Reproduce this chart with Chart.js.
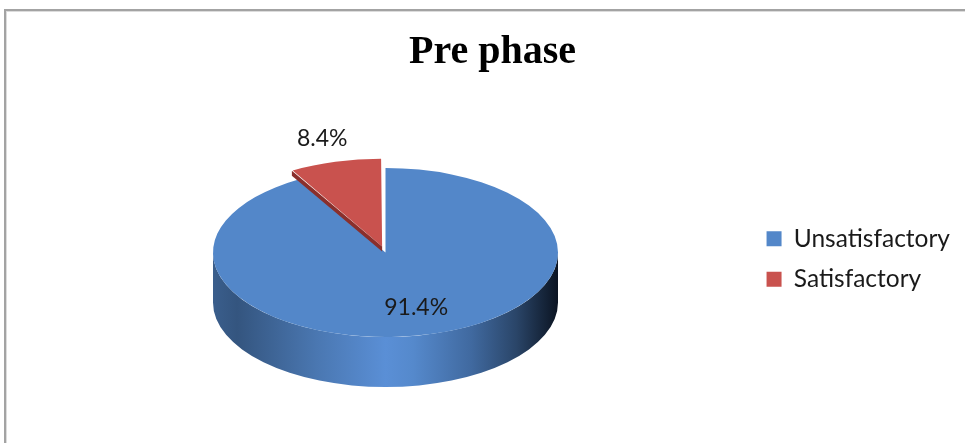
<!DOCTYPE html>
<html><head><meta charset="utf-8">
<script src="https://cdn.jsdelivr.net/npm/chart.js@4/dist/chart.umd.min.js"></script>
<style>
html,body{margin:0;padding:0;background:#fff;overflow:hidden;width:965px;height:443px;}
#frame{position:absolute;left:4px;top:9px;width:1100px;height:600px;border-top:2px solid #a3a3a3;border-left:2px solid #a3a3a3;box-shadow:inset 1px 1px 0 #dcdcdc;}
#wrap{position:absolute;left:0;top:0;width:965px;height:443px;}
</style></head><body>
<div id="frame"></div>
<div id="wrap"><canvas id="c" width="965" height="443"></canvas></div>
<script>
const categories = ['Unsatisfactory', 'Satisfactory'];
const values = [91.4, 8.4];
const valueLabels = ['91.4%', '8.4%'];
const sliceColors = ['#5387c9', '#c9524e'];

// drawing style (not data)
const VIEW = {cx: 385.5, cy: 252.5, rx: 172.5, ry: 84.5, depth: 50, cutDepth: 5};
const EXPLODE = [0, 0.3];           // offset as fraction of radius
const LABEL_RADIUS = [0.68, 1.28];  // label distance as fraction of slice radius
const WALL_STOPS = [[0,'#3a5e8c'],[0.07,'#34557f'],[0.3,'#4a77b1'],[0.5,'#5a8fd6'],[0.58,'#5589cc'],[0.75,'#40699f'],[0.88,'#2a4568'],[1,'#0b1422']];
const CUT_COLORS = ['#2c4a72', '#8a2f2c'];

function sliceGeom(chart, arc) {
  const meta = chart.getDatasetMeta(0);
  const base = meta.data[0];
  const R = base.outerRadius;
  const sx = VIEW.rx / R, sy = VIEW.ry / R;
  const off = (arc.options.offset || 0) / 4;
  const half = (arc.startAngle + arc.endAngle) / 2;
  const circ = arc.endAngle - arc.startAngle;
  const fix = 1 - Math.sin(Math.min(Math.PI, circ));
  const r = arc.outerRadius + off * fix;
  const ax = arc.x + Math.cos(half) * off, ay = arc.y + Math.sin(half) * off;
  return {
    cx: VIEW.cx + (ax - base.x) * sx, cy: VIEW.cy + (ay - base.y) * sy,
    rx: r * sx, ry: r * sy, half, start: arc.startAngle, end: arc.endAngle
  };
}

const pie3d = {
  id: 'pie3d',
  beforeDatasetsDraw(chart) {
    const ctx = chart.ctx;
    const meta = chart.getDatasetMeta(0);
    ctx.save();
    // outer walls on the front half
    meta.data.forEach((arc, i) => {
      const g = sliceGeom(chart, arc);
      for (let k = -1; k <= 1; k++) {
        const lo = Math.max(g.start, k * 2 * Math.PI), hi = Math.min(g.end, k * 2 * Math.PI + Math.PI);
        if (hi <= lo) continue;
        const grad = ctx.createLinearGradient(g.cx - g.rx, 0, g.cx + g.rx, 0);
        if (i === 0) WALL_STOPS.forEach(s => grad.addColorStop(s[0], s[1]));
        else { grad.addColorStop(0, '#7a2a28'); grad.addColorStop(0.5, '#b84a46'); grad.addColorStop(1, '#3a1211'); }
        ctx.beginPath();
        ctx.ellipse(g.cx, g.cy, g.rx, g.ry, 0, lo, hi, false);
        ctx.ellipse(g.cx, g.cy + VIEW.depth, g.rx, g.ry, 0, hi, lo, true);
        ctx.closePath();
        ctx.fillStyle = grad;
        ctx.fill();
      }
    });
    // squash the top faces into the ellipse
    const base = meta.data[0];
    const R = base.outerRadius;
    ctx.translate(VIEW.cx, VIEW.cy);
    ctx.scale(VIEW.rx / R, VIEW.ry / R);
    ctx.translate(-base.x, -base.y);
  },
  afterDatasetsDraw(chart) {
    const ctx = chart.ctx;
    ctx.restore();
    const meta = chart.getDatasetMeta(0);
    ctx.save();
    // visible cut face of exploded slices (below their start edge)
    meta.data.forEach((arc, i) => {
      if (!arc.options.offset) return;
      const g = sliceGeom(chart, arc);
      const px = g.cx + g.rx * Math.cos(g.start), py = g.cy + g.ry * Math.sin(g.start);
      ctx.beginPath();
      ctx.moveTo(g.cx, g.cy); ctx.lineTo(px, py);
      ctx.lineTo(px, py + VIEW.cutDepth); ctx.lineTo(g.cx, g.cy + VIEW.cutDepth);
      ctx.closePath();
      ctx.fillStyle = CUT_COLORS[i];
      ctx.fill();
    });
    ctx.font = '23px Lato';
    ctx.fillStyle = '#1a1a1a';
    ctx.textAlign = 'center';
    ctx.textBaseline = 'middle';
    meta.data.forEach((arc, i) => {
      const g = sliceGeom(chart, arc);
      const f = LABEL_RADIUS[i];
      ctx.fillText(valueLabels[i], g.cx + Math.cos(g.half) * g.rx * f, g.cy + Math.sin(g.half) * g.ry * f);
    });
    ctx.restore();
  }
};

new Chart(document.getElementById('c'), {
  type: 'pie',
  data: {
    labels: categories,
    datasets: [{
      data: values,
      backgroundColor: sliceColors,
      borderWidth: 0,
      clip: false,
      offset: (c) => {
        const a = c.chart.chartArea;
        if (!a) return 0;
        const m = Math.min(a.right - a.left, a.bottom - a.top);
        const f = EXPLODE[c.dataIndex];
        return f * m / (2 + f);
      }
    }]
  },
  options: {
    responsive: false,
    animation: false,
    events: [],
    layout: {padding: {left: 25, right: 5, top: 0, bottom: 14}},
    plugins: {
      title: {
        display: true, text: 'Pre phase', color: '#000',
        font: {family: '"Liberation Serif", "Times New Roman", serif', size: 40, weight: 'bold'},
        padding: {top: 29, bottom: 12}
      },
      legend: {
        position: 'right',
        fullSize: false,
        labels: {
          font: {family: 'Lato', size: 24.5}, color: '#1a1a1a',
          boxWidth: 15, boxHeight: 15, padding: 16
        }
      },
      tooltip: {enabled: false}
    }
  },
  plugins: [pie3d]
});
</script>
</body></html>
